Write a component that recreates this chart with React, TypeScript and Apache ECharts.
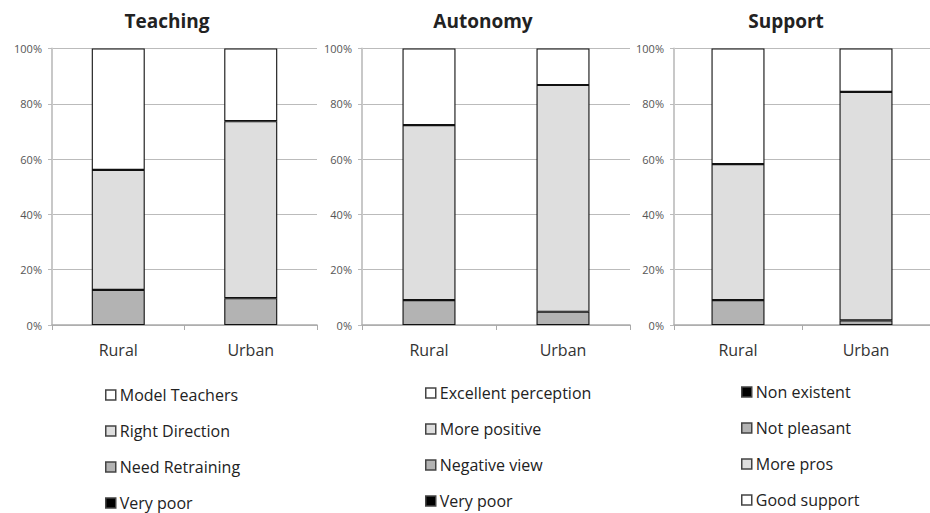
import React, { useEffect, useRef } from "react";
import * as echarts from "echarts";

const categories = ["Rural", "Urban"];
const yTicks = [0, 20, 40, 60, 80, 100];

const teachingNames = ["Very poor", "Need Retraining", "Right Direction", "Model Teachers"];
const teachingVeryPoor = [0, 0];
const teachingNeedRetraining = [12.7, 9.7];
const teachingRightDirection = [43.4, 64.0];
const teachingModelTeachers = [43.9, 26.3];
const teachingLegend = ["Model Teachers", "Right Direction", "Need Retraining", "Very poor"];

const autonomyNames = ["Very poor", "Negative view", "More positive", "Excellent perception"];
const autonomyVeryPoor = [0, 0];
const autonomyNegativeView = [9.0, 4.8];
const autonomyMorePositive = [63.3, 82.0];
const autonomyExcellent = [27.7, 13.2];
const autonomyLegend = ["Excellent perception", "More positive", "Negative view", "Very poor"];

const supportNames = ["Non existent", "Not pleasant", "More pros", "Good support"];
const supportNonExistent = [0, 0];
const supportNotPleasant = [9.0, 1.7];
const supportMorePros = [49.2, 82.6];
const supportGoodSupport = [41.8, 15.7];
const supportLegend = ["Non existent", "Not pleasant", "More pros", "Good support"];

const titles = ["Teaching", "Autonomy", "Support"];
const fillColors = ["#000000", "#b3b3b3", "#dedede", "#ffffff"];

const FONT = "'Open Sans', 'DejaVu Sans', sans-serif";

export default function App() {
  const ref = useRef<HTMLDivElement>(null);
  useEffect(() => {
    document.body.style.margin = "0";
    if (!ref.current) return;
    const chart = echarts.init(ref.current, undefined, { renderer: "svg" });

    const panels = [
      { names: teachingNames, data: [teachingVeryPoor, teachingNeedRetraining, teachingRightDirection, teachingModelTeachers], legend: teachingLegend },
      { names: autonomyNames, data: [autonomyVeryPoor, autonomyNegativeView, autonomyMorePositive, autonomyExcellent], legend: autonomyLegend },
      { names: supportNames, data: [supportNonExistent, supportNotPleasant, supportMorePros, supportGoodSupport], legend: supportLegend },
    ];

    const gridLayout = [
      { left: 52, right: 930 - 317 },
      { left: 362, right: 930 - 630 },
      { left: 674, right: -11 },
    ];
    const titleCenters = [162, 478, 781];
    const legendLefts = [105, 425, 741];
    const legendTops = [387, 385, 384];

    const series: any[] = [];
    panels.forEach((p, pi) => {
      p.names.forEach((n, si) => {
        series.push({
          type: "bar",
          name: n,
          xAxisIndex: pi,
          yAxisIndex: pi,
          stack: "s" + pi,
          barWidth: 53,
          data: p.data[si],
          itemStyle: { color: fillColors[si], borderColor: "#111", borderWidth: si === 0 ? 0 : 1.1 },
          emphasis: { disabled: true },
        });
      });
    });

    chart.setOption({
      animation: false,
      textStyle: { fontFamily: FONT },
      title: titles.map((t, i) => ({
        text: t,
        left: titleCenters[i],
        top: 6,
        textAlign: "center",
        textStyle: { fontFamily: FONT, fontSize: 19, fontWeight: "bold", color: "#222" },
      })),
      legend: panels.map((p, i) => ({
        data: p.legend,
        orient: "vertical",
        left: legendLefts[i],
        top: legendTops[i],
        icon: "rect",
        itemWidth: 10,
        itemHeight: 10,
        itemGap: 20,
        padding: 0,
        selectedMode: false,
        textStyle: { fontFamily: FONT, fontSize: 16, color: "#222", padding: [0, 0, 0, -1] },
        itemStyle: { borderColor: "#444", borderWidth: 1.5 },
      })),
      grid: gridLayout.map((g) => ({ left: g.left, right: g.right, top: 48.5, bottom: 188, containLabel: false })),
      xAxis: panels.map((_, i) => ({
        type: "category",
        gridIndex: i,
        data: categories,
        axisLine: { lineStyle: { color: "#aaa", width: 1.5 } },
        axisTick: { show: true, length: 5, lineStyle: { color: "#aaa" } },
        axisLabel: { fontFamily: FONT, fontSize: 16, color: "#333", margin: 17 },
      })),
      yAxis: panels.map((_, i) => ({
        type: "value",
        gridIndex: i,
        min: yTicks[0],
        max: yTicks[yTicks.length - 1],
        interval: 20,
        axisLine: { show: true, lineStyle: { color: "#c8c8c8", width: 2 } },
        axisTick: { show: true, length: 4, lineStyle: { color: "#bbb" } },
        splitLine: { lineStyle: { color: "#bbb", width: 1.2 } },
        axisLabel: { fontFamily: FONT, fontSize: 11, color: "#555", margin: 10, formatter: "{value}%" },
      })),
      series,
    });
    return () => chart.dispose();
  }, []);
  return <div ref={ref} style={{ width: 930, height: 513 }} />;
}
